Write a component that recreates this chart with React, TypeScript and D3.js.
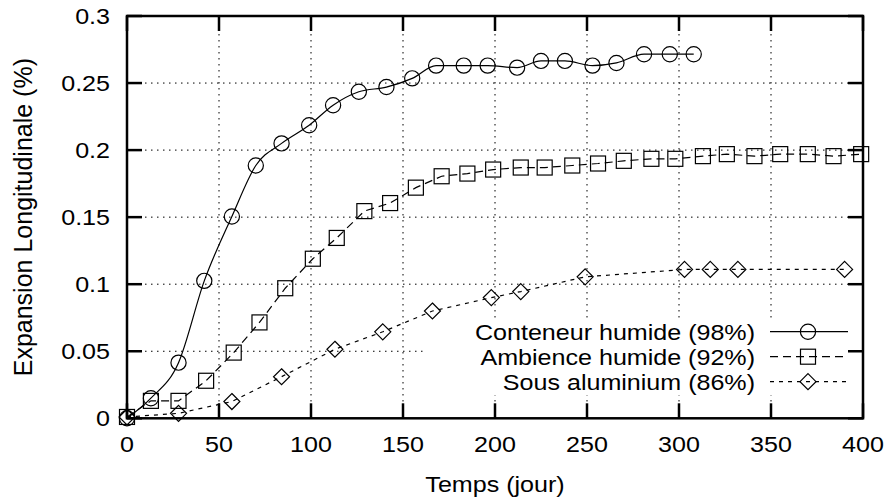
import React from "react";
import * as d3 from "d3";

const xTicks = [0, 50, 100, 150, 200, 250, 300, 350, 400];
const yTicks = [0, 0.05, 0.1, 0.15, 0.2, 0.25, 0.3];
const yTickLabels = ["0", "0.05", "0.1", "0.15", "0.2", "0.25", "0.3"];

const conteneurX = [0, 13, 28, 42, 57, 70, 84, 99, 112, 126, 141, 155, 168, 183, 196, 212, 225, 238, 253, 266, 281, 295, 308];
const conteneurY = [0, 0.015, 0.0415, 0.1025, 0.1505, 0.1885, 0.205, 0.2185, 0.2335, 0.2435, 0.247, 0.2535, 0.263, 0.263, 0.263, 0.2615, 0.2665, 0.2665, 0.263, 0.265, 0.2715, 0.2715, 0.2715];

const ambienceX = [0, 13, 28, 43, 58, 72, 86, 101, 114, 129, 143, 157, 171, 185, 199, 214, 227, 242, 256, 270, 285, 298, 313, 326, 341, 355, 370, 384, 399];
const ambienceY = [0.001, 0.013, 0.013, 0.028, 0.049, 0.0715, 0.097, 0.119, 0.1345, 0.1545, 0.1605, 0.172, 0.1805, 0.1825, 0.1855, 0.187, 0.187, 0.1885, 0.19, 0.192, 0.1935, 0.1935, 0.1955, 0.197, 0.1955, 0.197, 0.197, 0.1955, 0.197];

const aluminiumX = [0, 28, 57, 84, 113, 139, 166, 198, 214, 249, 303, 317, 332, 390];
const aluminiumY = [0.001, 0.0037, 0.0125, 0.031, 0.0515, 0.0645, 0.08, 0.09, 0.0945, 0.1055, 0.111, 0.111, 0.111, 0.111];

const legendLabels = ["Conteneur humide (98%)", "Ambience humide (92%)", "Sous aluminium (86%)"];

const W = 889, H = 501;
const L = 127, R = 863, T = 16, B = 418.3;
const FONT = "'Liberation Sans', Arial, Helvetica, sans-serif";
const FS = 22;
const SX = 1.14;

type Kind = "circle" | "square" | "diamond";

function Marker({ kind, x, y }: { kind: Kind; x: number; y: number }) {
  const st = { fill: "none", stroke: "#000", strokeWidth: 1.2 };
  if (kind === "circle") return <circle cx={x} cy={y} r={7.6} {...st} />;
  if (kind === "square") return <rect x={x - 7.5} y={y - 7.5} width={15} height={15} {...st} />;
  return <path d={`M${x},${y - 8}L${x + 8},${y}L${x},${y + 8}L${x - 8},${y}Z`} {...st} />;
}

export default function App() {
  const x = d3.scaleLinear().domain([0, 400]).range([L, R]);
  const y = d3.scaleLinear().domain([0, 0.3]).range([B, T]);
  const smooth = d3
    .line<[number, number]>()
    .x((d) => x(d[0]))
    .y((d) => y(d[1]))
    .curve(d3.curveMonotoneX);
  const straight = d3
    .line<[number, number]>()
    .x((d) => x(d[0]))
    .y((d) => y(d[1]));

  const series: { xs: number[]; ys: number[]; kind: Kind; dash?: string; curved: boolean }[] = [
    { xs: conteneurX, ys: conteneurY, kind: "circle", curved: true },
    { xs: ambienceX, ys: ambienceY, kind: "square", dash: "8,5", curved: false },
    { xs: aluminiumX, ys: aluminiumY, kind: "diamond", dash: "4,5", curved: false },
  ];

  const legendRows = [331.7, 356.7, 381.7];

  return (
    <svg width={W} height={H} style={{ position: "absolute", left: 0, top: 0, background: "#fff" }}>
      <g stroke="#000" strokeWidth={1} strokeDasharray="1.5,4.5" fill="none">
        {xTicks.slice(1, -1).map((t) => (
          <line key={"gx" + t} x1={x(t)} x2={x(t)} y1={T} y2={B} />
        ))}
        {yTicks.slice(1, -1).map((t) => (
          <line key={"gy" + t} x1={L} x2={R} y1={y(t)} y2={y(t)} />
        ))}
      </g>
      <rect x={423} y={318} width={425} height={77} fill="#fff" />
      {series.map((s, i) => {
        const pts: [number, number][] = s.xs.map((v, j) => [v, s.ys[j]]);
        const gen = s.curved ? smooth : straight;
        return (
          <g key={"s" + i}>
            <path d={gen(pts) || ""} fill="none" stroke="#000" strokeWidth={1.2} strokeDasharray={s.dash} />
            {pts.map((p, j) => (
              <Marker key={j} kind={s.kind} x={x(p[0])} y={y(p[1])} />
            ))}
          </g>
        );
      })}
      <g stroke="#000" strokeWidth={2.5} fill="none">
        <rect x={L} y={T} width={R - L} height={B - T} />
        {xTicks.map((t) => (
          <g key={"tx" + t}>
            <line x1={x(t)} x2={x(t)} y1={B} y2={B - 15} />
            <line x1={x(t)} x2={x(t)} y1={T} y2={T + 15} />
          </g>
        ))}
        {yTicks.map((t) => (
          <g key={"ty" + t}>
            <line x1={L} x2={L + 15} y1={y(t)} y2={y(t)} />
            <line x1={R} x2={R - 15} y1={y(t)} y2={y(t)} />
          </g>
        ))}
      </g>
      <g fontFamily={FONT} fontSize={FS} fill="#000">
        {yTicks.map((t, i) => (
          <g key={"ly" + t} transform={`translate(110,${y(t) + 8}) scale(${SX},1)`}>
            <text textAnchor="end">{yTickLabels[i]}</text>
          </g>
        ))}
        {xTicks.map((t) => (
          <g key={"lx" + t} transform={`translate(${x(t)},452) scale(${SX},1)`}>
            <text textAnchor="middle">{t}</text>
          </g>
        ))}
        <g transform={`translate(${(L + R) / 2},492) scale(${SX},1)`}>
          <text textAnchor="middle">Temps (jour)</text>
        </g>
        <text transform={`translate(32,${(T + B) / 2}) rotate(-90)`} textAnchor="middle" fontSize={25}>
          Expansion Longitudinale (%)
        </text>
        {legendLabels.map((lab, i) => (
          <g key={"lg" + i} transform={`translate(755,${legendRows[i] + 8}) scale(${SX},1)`}>
            <text textAnchor="end">{lab}</text>
          </g>
        ))}
      </g>
      {series.map((s, i) => (
        <g key={"ls" + i}>
          <line x1={770} x2={848} y1={legendRows[i]} y2={legendRows[i]} stroke="#000" strokeWidth={1.2} strokeDasharray={s.dash} />
          <Marker kind={s.kind} x={808} y={legendRows[i]} />
        </g>
      ))}
    </svg>
  );
}
